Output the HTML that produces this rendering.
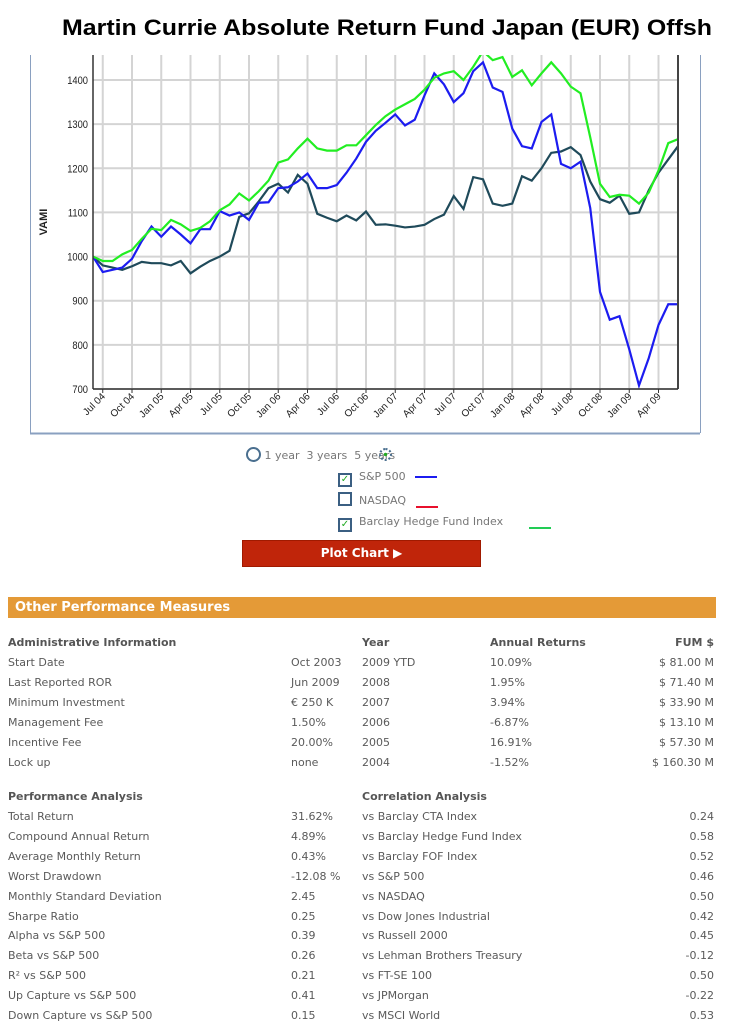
<!DOCTYPE html>
<html><head><meta charset="utf-8"><style>
body{margin:0;width:754px;height:1029px;background:#fff;position:relative;overflow:hidden;font-family:"DejaVu Sans",Verdana,sans-serif;}
.t{position:absolute;font-size:11px;color:#5a5a5a;white-space:nowrap;line-height:14px}
.h{font-weight:bold;color:#555}
.r{text-align:right}
</style></head><body>
<svg id="chart" width="754" height="440" style="position:absolute;left:0;top:0">
<text x="62" y="35" font-family="Liberation Sans, sans-serif" font-weight="bold" font-size="22" textLength="650" lengthAdjust="spacingAndGlyphs">Martin Currie Absolute Return Fund Japan (EUR) Offsh</text>
<line x1="30.5" y1="55" x2="30.5" y2="433" stroke="#8aa0c0"/>
<line x1="700.5" y1="55" x2="700.5" y2="433" stroke="#8aa0c0"/>
<line x1="30" y1="433.5" x2="700" y2="433.5" stroke="#8aa0c0" stroke-width="2"/>
<g id="grid"></g><g id="series"></g><g id="axes"></g>
</svg>
<script>
const months=["Jul 04","Oct 04","Jan 05","Apr 05","Jul 05","Oct 05","Jan 06","Apr 06","Jul 06","Oct 06","Jan 07","Apr 07","Jul 07","Oct 07","Jan 08","Apr 08","Jul 08","Oct 08","Jan 09","Apr 09"];
const yTicks=[700,800,900,1000,1100,1200,1300,1400];
const sp500=[1000,965,970,975,995,1035,1068,1045,1068,1050,1030,1062,1062,1103,1093,1100,1083,1122,1123,1155,1157,1170,1188,1155,1155,1162,1190,1222,1260,1285,1303,1322,1297,1310,1365,1415,1390,1350,1370,1420,1440,1383,1373,1290,1250,1245,1305,1322,1210,1200,1215,1110,920,857,865,790,708,770,845,892,892];
const barclay=[1000,990,990,1005,1015,1040,1063,1060,1083,1073,1058,1065,1080,1105,1118,1143,1127,1148,1172,1213,1220,1245,1267,1245,1240,1240,1252,1252,1275,1298,1318,1333,1345,1357,1378,1405,1415,1420,1400,1430,1465,1445,1452,1407,1422,1388,1415,1440,1415,1385,1370,1270,1165,1135,1140,1138,1120,1145,1195,1257,1266];
const fund=[1000,980,975,970,978,988,985,985,980,990,962,977,990,1000,1013,1090,1098,1125,1155,1165,1145,1185,1165,1097,1088,1080,1093,1082,1102,1072,1073,1070,1066,1068,1072,1085,1095,1137,1108,1180,1175,1120,1115,1120,1182,1172,1200,1235,1238,1248,1230,1170,1130,1122,1138,1097,1100,1150,1190,1220,1250];
const L=93,R=678,T=55,B=389,N=60;
const xs=i=>L+(R-L)*i/N;
const ys=v=>B-(v-700)*(389-80)/700;
const ns="http://www.w3.org/2000/svg";
function mk(tag,attrs,parent){const e=document.createElementNS(ns,tag);for(const k in attrs)e.setAttribute(k,attrs[k]);parent.appendChild(e);return e;}
const grid=document.getElementById('grid'),axes=document.getElementById('axes'),series=document.getElementById('series');
yTicks.forEach(v=>{const y=ys(v);
 const g=mk('line',{x1:L,x2:R,y1:y,y2:y,stroke:'#d4d4d4','stroke-width':2},grid);
 
 
 const t=mk('text',{x:L-5,y:y+4,'text-anchor':'end','font-size':11,'font-family':'Liberation Sans, sans-serif',fill:'#222',transform:`translate(${L-5},${y}) scale(0.85,1) translate(${-(L-5)},${-y})`},axes);
 t.textContent=v;
 
 
});
months.forEach((m,k)=>{const x=xs(1+3*k);
 const g=mk('line',{x1:x,x2:x,y1:T,y2:B,stroke:'#d4d4d4','stroke-width':2},grid);
 
 
 mk('line',{x1:x,x2:x,y1:B,y2:B+4,stroke:'#333'},axes);
 const t=mk('text',{x:x+3,y:B+8,'text-anchor':'end','font-size':10,'font-family':'Liberation Sans, sans-serif',fill:'#222',transform:`rotate(-45 ${x+3} ${B+8})`},axes);
 t.textContent=m;
 
 
});
mk('line',{x1:L,x2:L,y1:T,y2:B,stroke:'#333','stroke-width':1.5},axes);
mk('line',{x1:R,x2:R,y1:T,y2:B,stroke:'#444','stroke-width':2},axes);
mk('line',{x1:L,x2:R,y1:B,y2:B,stroke:'#333','stroke-width':1.5},axes);
const yt=mk('text',{x:47,y:222,'font-size':11,'font-weight':'bold','font-family':'Liberation Sans, sans-serif',fill:'#222','text-anchor':'middle',transform:'rotate(-90 47 222)'},axes);
yt.textContent='VAMI';


mk('clipPath',{id:'pc'},series);
mk('rect',{x:L,y:T,width:R-L,height:B-T},document.getElementById('pc'));
[[fund,'#1f4a5a','fund-line'],[sp500,'#1c1cf0','sp500-line'],[barclay,'#22ee22','barclay-line']].forEach(([d,c,n])=>{
 const p=mk('polyline',{points:d.map((v,i)=>xs(i)+','+ys(v)).join(' '),fill:'none',stroke:c,'stroke-width':2.2,'clip-path':'url(#pc)'},series);
 
 
});
</script>

<div class="t" style="left:246px;top:447px;font-size:11px;color:#777">
<span style="display:inline-block;width:11px;height:11px;border:2px solid #4a6f8f;border-radius:50%;vertical-align:-3px"></span> 1 year &nbsp;3 years &nbsp;5 years<span style="display:inline-block;width:9px;height:9px;border:2px dotted #4a6f8f;border-radius:50%;margin-left:-16px;vertical-align:-2px;background:radial-gradient(#2a2 25%,transparent 30%)"></span></div>
<div class="t" style="left:338px;top:470px;color:#777"><span style="display:inline-block;width:10px;height:10px;border:2px solid #3b5f82;color:#2a2;font-size:10px;line-height:10px;text-align:center;vertical-align:-2px">✓</span> &nbsp;S&amp;P 500 <span style="display:inline-block;width:22px;height:2px;background:#1c1cf0;vertical-align:2px;margin-left:6px"></span></div>
<div class="t" style="left:338px;top:492px;color:#777"><span style="display:inline-block;width:10px;height:10px;border:2px solid #3b5f82;vertical-align:-2px"></span> &nbsp;NASDAQ <span style="display:inline-block;width:22px;height:2px;background:#e8102c;vertical-align:-4px;margin-left:6px"></span></div>
<div class="t" style="left:338px;top:515px;color:#777"><span style="display:inline-block;width:10px;height:10px;border:2px solid #3b5f82;color:#2a2;font-size:10px;line-height:10px;text-align:center;vertical-align:-2px">✓</span> &nbsp;Barclay Hedge Fund Index <span style="display:inline-block;width:22px;height:2px;background:#22cc55;vertical-align:-4px;margin-left:22px"></span></div>
<div style="position:absolute;left:242px;top:540px;width:237px;height:25px;background:#c0250a;border:1px solid #a01a00;color:#fff;font:bold 12px 'DejaVu Sans',sans-serif;line-height:25px;text-align:center">Plot Chart ▶</div>

<div style="position:absolute;left:8px;top:597px;width:708px;height:21px;background:#e49a37;color:#fff;font:bold 13px 'DejaVu Sans',sans-serif;line-height:21px;padding-left:7px;box-sizing:border-box">Other Performance Measures</div>

<div id="tables"></div>
<script>
const adminLabels=["Start Date","Last Reported ROR","Minimum Investment","Management Fee","Incentive Fee","Lock up"];
const adminValues=["Oct 2003","Jun 2009","€ 250 K","1.50%","20.00%","none"];
const years=["2009 YTD","2008","2007","2006","2005","2004"];
const annual=["10.09%","1.95%","3.94%","-6.87%","16.91%","-1.52%"];
const fum=["$ 81.00 M","$ 71.40 M","$ 33.90 M","$ 13.10 M","$ 57.30 M","$ 160.30 M"];
const perfLabels=["Total Return","Compound Annual Return","Average Monthly Return","Worst Drawdown","Monthly Standard Deviation","Sharpe Ratio","Alpha vs S&P 500","Beta vs S&P 500","R² vs S&P 500","Up Capture vs S&P 500","Down Capture vs S&P 500"];
const perfValues=["31.62%","4.89%","0.43%","-12.08 %","2.45","0.25","0.39","0.26","0.21","0.41","0.15"];
const corrLabels=["vs Barclay CTA Index","vs Barclay Hedge Fund Index","vs Barclay FOF Index","vs S&P 500","vs NASDAQ","vs Dow Jones Industrial","vs Russell 2000","vs Lehman Brothers Treasury","vs FT-SE 100","vs JPMorgan","vs MSCI World"];
const corrValues=["0.24","0.58","0.52","0.46","0.50","0.42","0.45","-0.12","0.50","-0.22","0.53"];
const tb=document.getElementById('tables');
function txt(s,x,y,cls,name,right){const d=document.createElement('div');d.className='t '+(cls||'');d.textContent=s;
 if(right){d.style.right=(754-x)+'px';}else d.style.left=x+'px';d.style.top=y+'px';
 
 
 tb.appendChild(d);}
txt("Administrative Information",8,636,'h','admin-header');
txt("Year",362,636,'h','year-header');
txt("Annual Returns",490,636,'h','annual-returns-header');
txt("FUM $",714,636,'h','fum-header',true);
adminLabels.forEach((s,i)=>{const y=656+20*i;
 txt(s,8,y,'','admin-label');txt(adminValues[i],291,y,'','admin-value');
 txt(years[i],362,y,'','year-cell');txt(annual[i],490,y,'','annual-return-cell');txt(fum[i],714,y,'','fum-cell',true);});
txt("Performance Analysis",8,790,'h','performance-header');
txt("Correlation Analysis",362,790,'h','correlation-header');
perfLabels.forEach((s,i)=>{const y=810+19.9*i;
 txt(s,8,y,'','perf-label');txt(perfValues[i],291,y,'','perf-value');
 txt(corrLabels[i],362,y,'','corr-label');txt(corrValues[i],714,y,'','corr-value',true);});
</script>
</body></html>
